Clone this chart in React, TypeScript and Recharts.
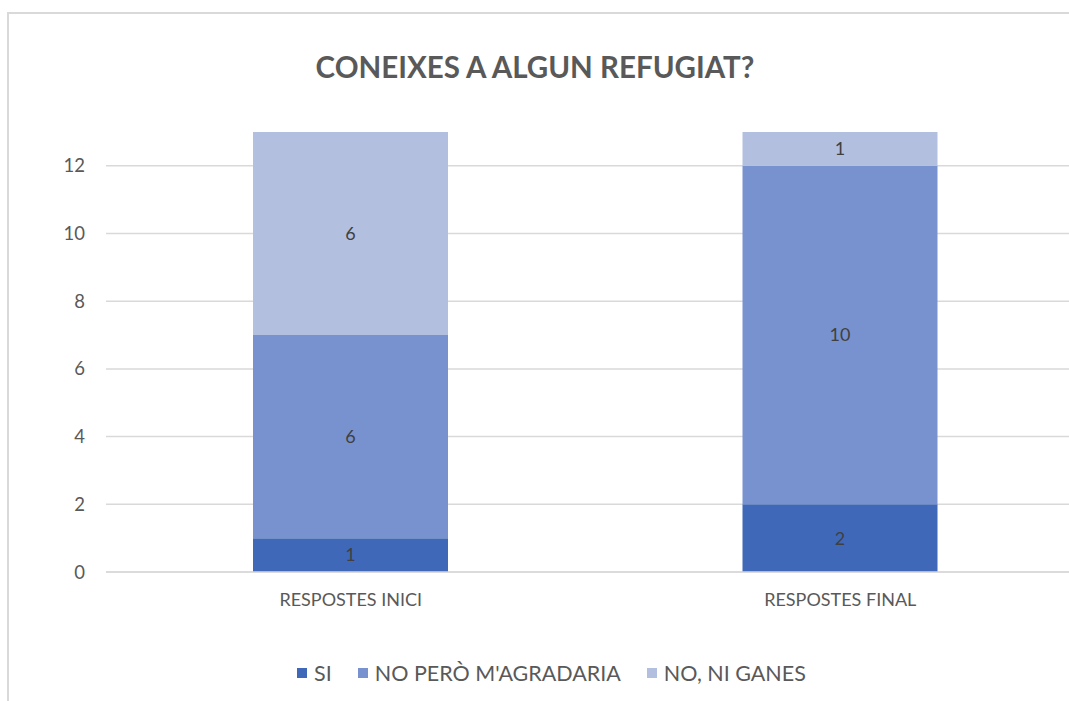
import React from "react";
import { BarChart, Bar, XAxis, YAxis, CartesianGrid, LabelList } from "recharts";

const categories = ["RESPOSTES INICI", "RESPOSTES FINAL"];
const siValues = [1, 2];
const noPeroValues = [6, 10];
const noNiValues = [6, 1];
const yTicks = [0, 2, 4, 6, 8, 10, 12];

const series = [
  { key: "si", name: "SI", color: "#3f69b8" },
  { key: "noPero", name: "NO PERÒ M'AGRADARIA", color: "#7892cf" },
  { key: "noNi", name: "NO, NI GANES", color: "#b3bfdf" },
];

const data = categories.map((name, i) => ({
  name,
  si: siValues[i],
  noPero: noPeroValues[i],
  noNi: noNiValues[i],
}));

const FONT = "Lato, 'Open Sans', sans-serif";
const TEXT = "#595959";

export default function App() {
  return (
    <div
      style={{
        position: "fixed",
        left: 0,
        top: 0,
        width: 1069,
        height: 701,
        overflow: "hidden",
        background: "#fff",
        fontFamily: FONT,
      }}
    >
      <div
        style={{
          position: "absolute",
          left: 7,
          top: 12,
          width: 1120,
          height: 740,
          border: "2px solid #d9d9d9",
        }}
      />
      <div
        style={{
          position: "absolute",
          left: 0,
          width: 1070,
          top: 52,
          textAlign: "center",
          fontSize: 29.5,
          lineHeight: "30px",
          fontWeight: 700,
          color: TEXT,
        }}
      >
        CONEIXES A ALGUN REFUGIAT?
      </div>
      <div style={{ position: "absolute", left: 8, top: 13, width: 1100, height: 680 }}>
        <BarChart
          width={1100}
          height={680}
          data={data}
          margin={{ top: 119, right: 23, left: 38, bottom: 81 }}
          style={{ maxWidth: "none" }}
        >
          <CartesianGrid
            vertical={false}
            stroke="#d9d9d9"
            strokeWidth={1.5}
            horizontalValues={yTicks}
          />
          <XAxis
            dataKey="name"
            height={40}
            axisLine={{ stroke: "#d9d9d9", strokeWidth: 1.5 }}
            tickLine={false}
            tickMargin={15}
            tick={{ fill: TEXT, fontSize: 18, fontFamily: FONT }}
          />
          <YAxis
            width={60}
            domain={[0, 13]}
            ticks={yTicks}
            axisLine={false}
            tickLine={false}
            tickMargin={15}
            tick={{ fill: TEXT, fontSize: 18.5, fontFamily: FONT }}
          />
          {series.map((s) => (
            <Bar
              key={s.key}
              dataKey={s.key}
              name={s.name}
              stackId="a"
              fill={s.color}
              barSize={195}
              isAnimationActive={false}
            >
              <LabelList
                dataKey={s.key}
                position="center"
                fill="#404040"
                fontSize={18}
                fontFamily={FONT}
              />
            </Bar>
          ))}
        </BarChart>
      </div>
      <div
        style={{
          position: "absolute",
          left: 0,
          width: 1103,
          top: 661,
          display: "flex",
          justifyContent: "center",
          alignItems: "center",
          gap: 26,
          fontSize: 21.5,
          lineHeight: "24px",
          color: TEXT,
        }}
      >
        {series.map((s) => (
          <div key={s.key} style={{ display: "flex", alignItems: "center", gap: 7 }}>
            <span style={{ width: 10, height: 10, background: s.color, display: "inline-block" }} />
            <span>{s.name}</span>
          </div>
        ))}
      </div>
    </div>
  );
}
